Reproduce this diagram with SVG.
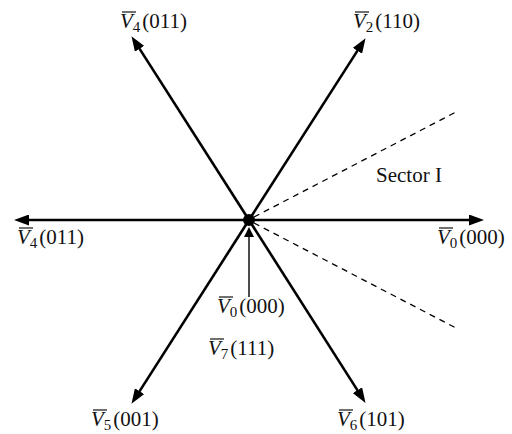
<svg xmlns="http://www.w3.org/2000/svg" width="512" height="434" viewBox="0 0 512 434">
<style>
.lbl{font-family:"Liberation Serif","Times New Roman",serif;font-size:21px;fill:#111}
.v{font-style:italic}
.sub{font-size:15px}
.ol{stroke:#111;stroke-width:1.2}
.main{stroke:#000;stroke-width:2.6;fill:none}
.thin{stroke:#000;stroke-width:1.4;fill:none}
.dash{stroke:#000;stroke-width:1.3;stroke-dasharray:6 5;fill:none}
</style>
<defs>
<marker id="ah" markerUnits="userSpaceOnUse" markerWidth="15" markerHeight="11" refX="4" refY="5.5" orient="auto">
<path d="M0,0 L15,5.5 L0,11 z" fill="#000"/>
</marker>
<marker id="ahs" markerUnits="userSpaceOnUse" markerWidth="11" markerHeight="10" refX="2" refY="5" orient="auto">
<path d="M0,0 L10,5 L0,10 z" fill="#000"/>
</marker>
</defs>
<rect width="512" height="434" fill="#fff"/>
<g id="connectors">
<line class="main" x1="249" y1="220" x2="137.4" y2="45.4" marker-end="url(#ah)"/>
<line class="main" x1="249" y1="220" x2="359.6" y2="47.4" marker-end="url(#ah)"/>
<line class="main" x1="249" y1="220" x2="137.4" y2="394.6" marker-end="url(#ah)"/>
<line class="main" x1="249" y1="220" x2="359.6" y2="393.6" marker-end="url(#ah)"/>
<line class="main" x1="249" y1="220" x2="25" y2="220" marker-end="url(#ah)"/>
<line class="main" x1="249" y1="220" x2="473" y2="220" marker-end="url(#ah)"/>
<line class="thin" x1="249" y1="297" x2="249" y2="235" marker-end="url(#ahs)"/>
<line class="dash" x1="254" y1="217" x2="456" y2="112"/>
<line class="dash" x1="254" y1="223" x2="456" y2="328"/>
</g>
<g id="origin"><circle cx="249" cy="220" r="6" fill="#000"/></g>
<g id="v4-top">
<text class="lbl" x="120" y="28"><tspan class="v">V</tspan><tspan class="sub" dy="4">4</tspan><tspan dx="2" dy="-4">(011)</tspan></text>
<line class="ol" x1="122" y1="12" x2="136" y2="12"/>
</g>
<g id="v2">
<text class="lbl" x="353" y="28"><tspan class="v">V</tspan><tspan class="sub" dy="4">2</tspan><tspan dx="2" dy="-4">(110)</tspan></text>
<line class="ol" x1="355" y1="12" x2="369" y2="12"/>
</g>
<g id="v4-left">
<text class="lbl" x="17" y="244"><tspan class="v">V</tspan><tspan class="sub" dy="4">4</tspan><tspan dx="2" dy="-4">(011)</tspan></text>
<line class="ol" x1="19" y1="228" x2="33" y2="228"/>
</g>
<g id="v0-right">
<text class="lbl" x="437" y="244"><tspan class="v">V</tspan><tspan class="sub" dy="4">0</tspan><tspan dx="2" dy="-4">(000)</tspan></text>
<line class="ol" x1="439" y1="228" x2="453" y2="228"/>
</g>
<g id="v0-center">
<text class="lbl" x="217" y="313"><tspan class="v">V</tspan><tspan class="sub" dy="4">0</tspan><tspan dx="2" dy="-4">(000)</tspan></text>
<line class="ol" x1="219" y1="297" x2="233" y2="297"/>
</g>
<g id="v7">
<text class="lbl" x="208" y="355"><tspan class="v">V</tspan><tspan class="sub" dy="4">7</tspan><tspan dx="2" dy="-4">(111)</tspan></text>
<line class="ol" x1="210" y1="339" x2="224" y2="339"/>
</g>
<g id="v5">
<text class="lbl" x="91" y="426"><tspan class="v">V</tspan><tspan class="sub" dy="4">5</tspan><tspan dx="2" dy="-4">(001)</tspan></text>
<line class="ol" x1="93" y1="410" x2="107" y2="410"/>
</g>
<g id="v6">
<text class="lbl" x="337" y="426"><tspan class="v">V</tspan><tspan class="sub" dy="4">6</tspan><tspan dx="2" dy="-4">(101)</tspan></text>
<line class="ol" x1="339" y1="410" x2="353" y2="410"/>
</g>
<g id="sector">
<text class="lbl" x="376" y="182">Sector I</text>
</g>
</svg>
